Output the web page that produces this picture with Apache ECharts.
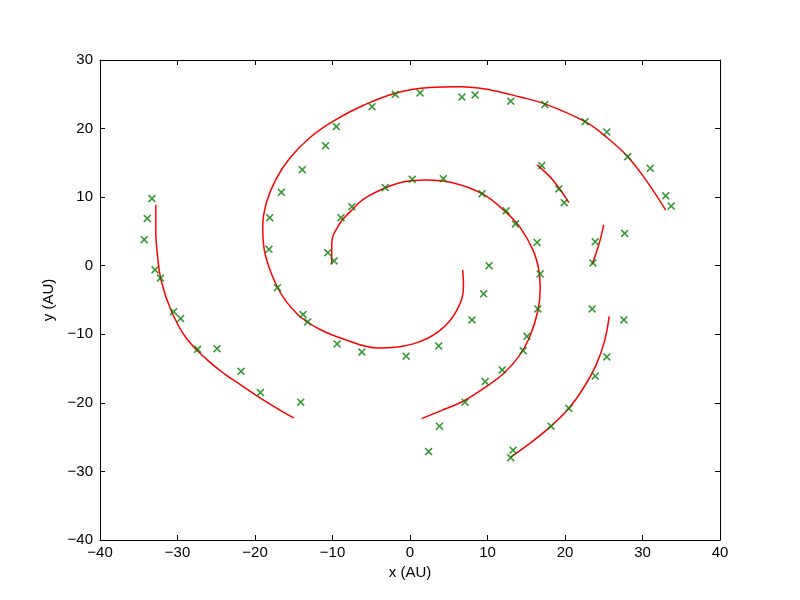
<!DOCTYPE html>
<html>
<head>
<meta charset="utf-8">
<script src="https://cdn.jsdelivr.net/npm/echarts@6/dist/echarts.min.js"></script>
<style>
  html, body { margin: 0; padding: 0; background: #fff; }
  #chart { width: 800px; height: 600px; }
</style>
</head>
<body>
<div id="chart"></div>
<script>
// spiral arms (red lines) as [x, y] in AU
const armLeft = [[-32.8, 8.9], [-32.8, 5.1], [-32.6, 1.7], [-32.1, -2.2], [-30.8, -6.6], [-28.9, -10.5],
  [-26.2, -13.7], [-23.9, -15.8], [-21.8, -17.4], [-19.3, -19.3], [-17.0, -20.9], [-15.0, -22.2]];
const armOuter = [[6.8, -0.6], [6.9, -3.0], [6.0, -6.6], [3.8, -9.5], [0.4, -11.4], [-4.1, -12.0],
  [-8.6, -10.7], [-11.6, -9.3], [-14.2, -7.4], [-16.3, -4.7], [-17.8, -1.4], [-18.8, 2.3], [-19.0, 5.8],
  [-18.5, 9.3], [-17.3, 12.6], [-15.5, 15.7], [-12.9, 18.7], [-9.9, 21.1], [-6.0, 23.4], [-1.8, 25.2],
  [2.5, 26.0], [6.5, 26.1], [10.5, 25.6], [14.2, 24.6], [17.4, 23.6], [22.6, 21.0], [25.4, 18.7],
  [28.1, 15.9], [30.5, 12.4], [33.0, 8.1]];
const armInner = [[-10.1, 0.2], [-10.1, 3.2], [-9.1, 6.1], [-7.6, 8.0], [-5.6, 10.0], [-1.3, 12.1],
  [2.1, 12.5], [5.5, 12.1], [9.3, 10.5], [12.2, 8.0], [14.2, 5.6], [15.9, 2.2], [16.6, -0.5],
  [16.8, -3.2], [16.5, -6.6], [15.4, -10.5], [14.0, -13.3], [12.0, -15.8], [9.5, -17.9], [6.8, -19.8],
  [4.1, -21.1], [1.5, -22.3]];
const armSmall1 = [[16.4, 14.7], [18.5, 12.4], [20.5, 9.2]];
const armSmall2 = [[25.0, 6.0], [24.4, 3.2], [23.5, 0.2]];
const armLower = [[25.7, -7.4], [25.1, -11.0], [24.0, -14.5], [22.4, -17.8], [20.5, -20.8],
  [18.2, -23.4], [15.6, -25.8], [13.0, -27.9]];

// observed points (green crosses)
const obsX = [-33.3, -33.9, -34.3, -32.9, -32.2, -30.5, -29.6, -27.4, -24.9, -21.8, -19.3, -14.1,
  -17.1, -18.2, -18.1, -16.6, -13.9, -10.9, -9.5, -4.9, -1.9, 1.3, 6.7, 8.4, 13.0, 17.4, 22.6, 25.4,
  28.1, 31.0, 33.0, 33.7,
  -10.6, -9.8, -8.9, -7.5, -3.2, 0.3, 4.3, 9.3, 12.4, 13.6, 16.4, 16.8, 16.5, 15.1, 14.6, 11.9, 9.7,
  7.1, 3.8, 2.4,
  -13.8, -13.2, -9.4, -6.2, -0.5, 3.7, 8.0, 9.5, 10.2,
  17.0, 19.2, 19.9,
  23.9, 23.6, 27.7,
  23.5, 27.6, 25.4, 23.9, 20.5, 18.2, 13.3, 13.0];
const obsY = [9.8, 6.9, 3.8, -0.6, -1.8, -6.7, -7.7, -12.2, -12.1, -15.4, -18.5, -19.9,
  -3.2, 2.4, 7.0, 10.7, 14.0, 17.5, 20.3, 23.2, 25.0, 25.2, 24.6, 24.9, 24.0, 23.5, 21.0, 19.5,
  15.9, 14.2, 10.2, 8.7,
  1.9, 0.7, 7.0, 8.6, 11.4, 12.6, 12.7, 10.5, 8.0, 6.1, 3.4, -1.2, -6.3, -10.3, -12.4, -15.2, -16.9,
  -19.9, -23.4, -27.1,
  -7.1, -8.2, -11.4, -12.6, -13.2, -11.7, -7.9, -4.1, 0.0,
  14.6, 11.2, 9.2,
  3.5, 0.4, 4.7,
  -6.3, -7.9, -13.3, -16.1, -20.8, -23.4, -26.9, -28.0];

const xTicks = [-40, 40, 10]; // min, max, step
const yTicks = [-40, 30, 10];

const font = "Liberation Sans";
const minus = (v) => String(v).replace("-", "\u2212");

const chart = echarts.init(document.getElementById("chart"));

const frameAxis = (pos, ticks, show) => ({
  type: "value",
  position: pos,
  min: ticks[0],
  max: ticks[1],
  interval: ticks[2],
  axisLine: { show: true, onZero: false, lineStyle: { color: "#000", width: 1 } },
  axisTick: { show: true, inside: true, length: 5, lineStyle: { color: "#000" } },
  axisLabel: {
    show: show,
    color: "#000",
    fontFamily: font,
    fontSize: 15,
    formatter: minus,
  },
  splitLine: { show: false },
});

const xBottom = frameAxis("bottom", xTicks, true);
xBottom.axisLabel.margin = 5;
xBottom.name = "x (AU)";
xBottom.nameLocation = "middle";
xBottom.nameGap = 25;
xBottom.nameTextStyle = { color: "#000", fontFamily: font, fontSize: 15 };

const yLeft = frameAxis("left", yTicks, true);
yLeft.axisLabel.margin = 7;
yLeft.name = "y (AU)";
yLeft.nameLocation = "middle";
yLeft.nameGap = 31;
yLeft.nameTextStyle = { color: "#000", fontFamily: font, fontSize: 15 };

const lineSeries = (data) => ({
  type: "line",
  data: data,
  smooth: 0.4,
  showSymbol: false,
  lineStyle: { color: "#ff0000", width: 1.5 },
  z: 2,
});

const option = {
  animation: false,
  backgroundColor: "#fff",
  grid: { left: 100, right: 80, top: 60, bottom: 60 },
  xAxis: [xBottom, frameAxis("top", xTicks, false)],
  yAxis: [yLeft, frameAxis("right", yTicks, false)],
  series: [
    lineSeries(armLeft),
    lineSeries(armOuter),
    lineSeries(armInner),
    lineSeries(armSmall1),
    lineSeries(armSmall2),
    lineSeries(armLower),
    {
      type: "scatter",
      data: obsX.map((x, i) => [x, obsY[i]]),
      symbol: "path://M0,1.4L1.4,0L5,3.6L8.6,0L10,1.4L6.4,5L10,8.6L8.6,10L5,6.4L1.4,10L0,8.6L3.6,5Z",
      symbolSize: 8,
      itemStyle: { color: "#008000" },
      z: 3,
    },
  ],
};

chart.setOption(option);
window.addEventListener("resize", () => {
  chart.resize();
});
</script>
</body>
</html>
